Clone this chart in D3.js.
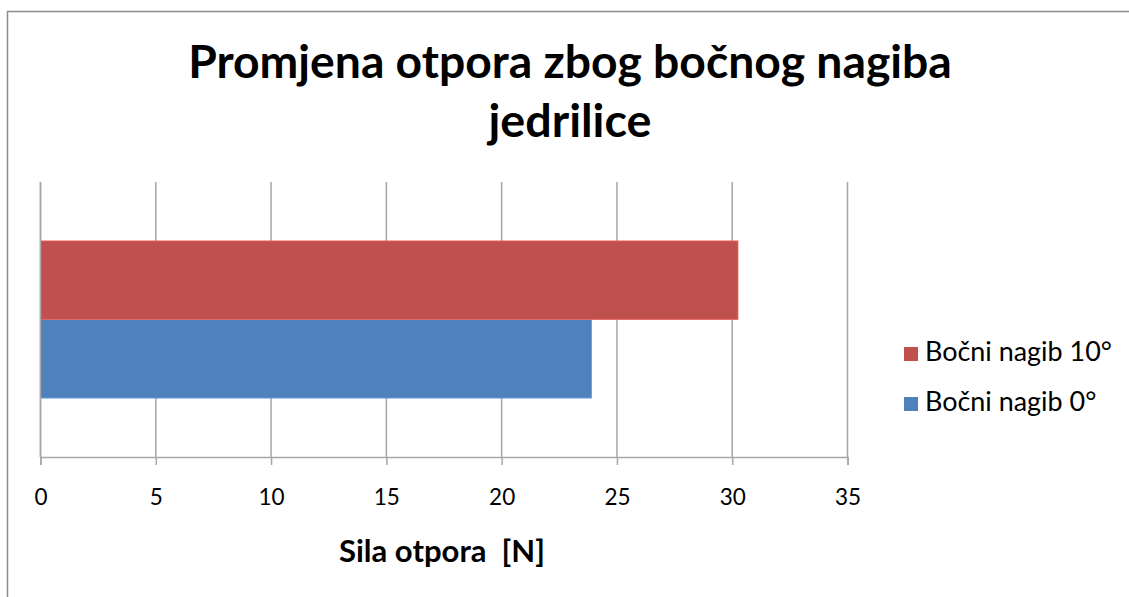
<!DOCTYPE html>
<html>
<head>
<meta charset="utf-8">
<script src="https://cdn.jsdelivr.net/npm/d3@7"></script>
<style>
  html, body { margin: 0; padding: 0; background: #fff; }
  svg { display: block; }
  text { font-family: Lato, "Open Sans", "DejaVu Sans", sans-serif; fill: #000; white-space: pre; }
</style>
</head>
<body>
<svg id="chart" width="1129" height="597"></svg>
<script>
// Chart data
const titleLines = ["Promjena otpora zbog bočnog nagiba", "jedrilice"];
const categories = [""];
const seriesNames = ["Bočni nagib 0°", "Bočni nagib 10°"];
const seriesValues = [[23.9], [30.25]];
const seriesColors = ["#4F81BD", "#C0504D"];
const xTicks = [0, 5, 10, 15, 20, 25, 30, 35];
const xTitle = "Sila otpora  [N]";

const svg = d3.select("#chart");

// Outer chart frame (top and left edges visible)
svg.append("path")
  .attr("d", "M7.5,597 V11.5 H1129")
  .attr("fill", "none")
  .attr("stroke", "#8c8c8c")
  .attr("stroke-width", 1.5);

const plot = { left: 40.5, right: 847.5, top: 182, bottom: 457 };

const x = d3.scaleLinear().domain([0, 35]).range([plot.left, plot.right]);
const y = d3.scaleBand().domain(categories).range([plot.bottom, plot.top])
  .paddingInner(0).paddingOuter(0.375);
// first series at the bottom of the group, as in horizontal bar charts
const ySeries = d3.scaleBand().domain(d3.range(seriesNames.length))
  .range([y.bandwidth(), 0]).padding(0);

// Vertical gridlines
svg.append("g").selectAll("line").data(xTicks).join("line")
  .attr("x1", d => x(d)).attr("x2", d => x(d))
  .attr("y1", plot.top).attr("y2", plot.bottom)
  .attr("stroke", "#a6a6a6").attr("stroke-width", 1.5);

// Bars
const barG = svg.append("g");
seriesNames.forEach((name, si) => {
  barG.selectAll(null).data(categories).join("rect")
    .attr("x", x(0))
    .attr("y", c => y(c) + ySeries(si))
    .attr("width", (c, ci) => x(seriesValues[si][ci]) - x(0))
    .attr("height", ySeries.bandwidth())
    .attr("fill", seriesColors[si])
    .attr("stroke", d3.color(seriesColors[si]).brighter(0.6))
    .attr("stroke-width", 0.8);
});

// Value axis along the bottom
const xAxis = d3.axisBottom(x).tickValues(xTicks).tickSize(8).tickPadding(0)
  .tickFormat(d3.format("d"));
const axG = svg.append("g").attr("transform", `translate(0,${plot.bottom})`).call(xAxis);
axG.select(".domain").attr("stroke", "#a6a6a6").attr("stroke-width", 1.5);
axG.selectAll(".tick line").attr("stroke", "#a6a6a6").attr("stroke-width", 1.5);
axG.selectAll(".tick text")
  .attr("y", 48).attr("dy", 0)
  .style("font-family", "Lato, 'Open Sans', sans-serif")
  .style("font-size", "22.5px")
  .attr("fill", "#000");

// Left category axis line
svg.append("line")
  .attr("x1", plot.left).attr("x2", plot.left)
  .attr("y1", plot.top).attr("y2", plot.bottom)
  .attr("stroke", "#a6a6a6").attr("stroke-width", 1.5);

// Scale a text element's font size so its width equals the given width
function fitWidth(sel, width, base) {
  sel.style("font-size", base + "px");
  const w = sel.node().getComputedTextLength();
  sel.style("font-size", (base * width / w).toFixed(2) + "px");
  return sel;
}

// Title
const titleBaselines = [78, 137];
const titleWidths = [764, 163];
titleLines.forEach((t, i) => {
  const el = svg.append("text")
    .attr("x", 570).attr("y", titleBaselines[i])
    .attr("text-anchor", "middle")
    .attr("font-weight", "bold")
    .text(t);
  fitWidth(el, titleWidths[i], 40);
});

// Axis title
const xt = svg.append("text")
  .attr("x", 442).attr("y", 562)
  .attr("text-anchor", "middle")
  .attr("font-weight", "bold")
  .text(xTitle);
fitWidth(xt, 206, 26);

// Legend (reverse order: top series first)
const legendOrder = d3.range(seriesNames.length).reverse();
const legend = svg.append("g");
let legendSize = null;
legendOrder.forEach((si, row) => {
  const base = 361 + row * 50;
  legend.append("rect")
    .attr("x", 904).attr("y", base - 14)
    .attr("width", 14).attr("height", 14)
    .attr("fill", seriesColors[si]);
  const t = legend.append("text")
    .attr("x", 925).attr("y", base)
    .text(seriesNames[si]);
  if (legendSize === null) {
    fitWidth(t, 187, 22);
    legendSize = t.style("font-size");
  } else {
    t.style("font-size", legendSize);
  }
});
</script>
</body>
</html>
